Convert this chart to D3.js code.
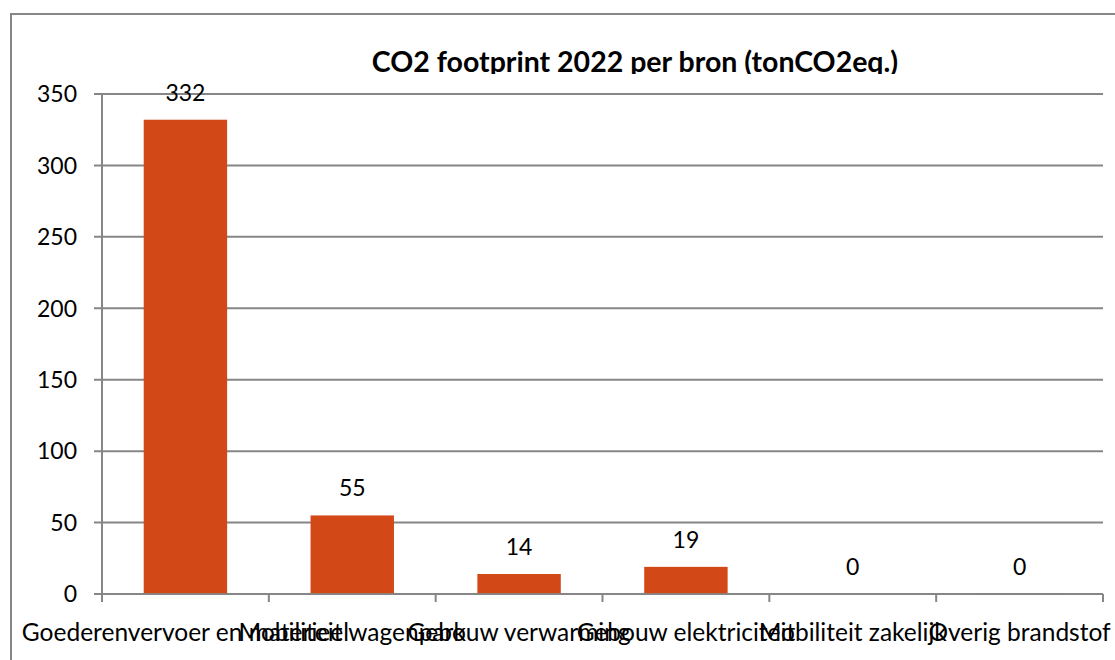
<!DOCTYPE html>
<html>
<head>
<meta charset="utf-8">
<script src="https://cdn.jsdelivr.net/npm/d3@7"></script>
<style>
  body { margin: 0; background: #fff; }
  svg { display: block; font-family: Lato, "Open Sans", sans-serif; }
</style>
</head>
<body>
<div id="chart"></div>
<script>
// chart data
const categories = ["Goederenvervoer en materieel", "Mobiliteit wagenpark", "Gebouw verwarming",
  "Gebouw elektriciteit", "Mobiliteit zakelijk", "Overig brandstof"];
const values = [332, 55, 14, 19, 0, 0.2];
const valueLabels = ["332", "55", "14", "19", "0", "0"];
const yTicks = [0, 50, 100, 150, 200, 250, 300, 350];
const title = "CO2 footprint 2022 per bron (tonCO2eq.)";

const W = 1115, H = 660;
const plot = { left: 102, right: 1103, top: 94, bottom: 594 };
const grey = "#868686";
const barColor = "#D34817";

const svg = d3.select("#chart").append("svg")
  .attr("width", W)
  .attr("height", H);

// outer frame, runs off the right and bottom edges
svg.append("rect")
  .attr("x", 11).attr("y", 14)
  .attr("width", W + 200).attr("height", H + 100)
  .attr("fill", "none")
  .attr("stroke", grey)
  .attr("stroke-width", 2);

// title, bottom clipped like the source
svg.append("clipPath").attr("id", "titleClip")
  .append("rect").attr("x", 0).attr("y", 0).attr("width", W).attr("height", 74);

svg.append("text")
  .attr("clip-path", "url(#titleClip)")
  .attr("x", 635).attr("y", 72)
  .attr("text-anchor", "middle")
  .attr("font-weight", "bold")
  .attr("font-size", 28.5)
  .attr("fill", "#000")
  .text(title);

const x = d3.scaleBand()
  .domain(categories)
  .range([plot.left, plot.right])
  .paddingInner(0.5)
  .paddingOuter(0.25);

const y = d3.scaleLinear()
  .domain([0, 350])
  .range([plot.bottom, plot.top]);

// gridlines + y ticks
svg.append("g")
  .selectAll("line")
  .data(yTicks)
  .join("line")
  .attr("x1", plot.left - 8).attr("x2", plot.right)
  .attr("y1", d => y(d)).attr("y2", d => y(d))
  .attr("stroke", grey)
  .attr("stroke-width", 2);

svg.append("g")
  .selectAll("text")
  .data(yTicks)
  .join("text")
  .attr("x", 77)
  .attr("y", d => y(d))
  .attr("dy", "0.36em")
  .attr("text-anchor", "end")
  .attr("font-size", 23)
  .attr("fill", "#000")
  .text(d => d);

// y axis line
svg.append("line")
  .attr("x1", plot.left).attr("x2", plot.left)
  .attr("y1", plot.top).attr("y2", plot.bottom + 8)
  .attr("stroke", grey)
  .attr("stroke-width", 2);

// category boundary ticks
const step = x.step();
const bounds = categories.map(c => x(c) - step * 0.25).concat([plot.right]);
svg.append("g")
  .selectAll("line")
  .data(bounds)
  .join("line")
  .attr("x1", d => d).attr("x2", d => d)
  .attr("y1", plot.bottom).attr("y2", plot.bottom + 8)
  .attr("stroke", grey)
  .attr("stroke-width", 2);

// bars
svg.append("g")
  .selectAll("rect")
  .data(values)
  .join("rect")
  .attr("x", (d, i) => x(categories[i]))
  .attr("y", d => y(d))
  .attr("width", x.bandwidth())
  .attr("height", d => y(0) - y(d))
  .attr("fill", barColor);

// redraw zero line on top of bars
svg.append("line")
  .attr("x1", plot.left - 8).attr("x2", plot.right)
  .attr("y1", y(0)).attr("y2", y(0))
  .attr("stroke", grey)
  .attr("stroke-width", 2)
  .attr("stroke-opacity", 0.85);

// value labels
svg.append("g")
  .selectAll("text")
  .data(values)
  .join("text")
  .attr("x", (d, i) => x(categories[i]) + x.bandwidth() / 2)
  .attr("y", d => y(d) - 19)
  .attr("text-anchor", "middle")
  .attr("font-size", 23)
  .attr("fill", "#000")
  .text((d, i) => valueLabels[i]);

// category labels (overlapping, as in the source)
svg.append("g")
  .selectAll("text")
  .data(categories)
  .join("text")
  .attr("x", d => x(d) + x.bandwidth() / 2)
  .attr("y", 641)
  .attr("text-anchor", "middle")
  .attr("font-size", 24.5)
  .attr("fill", "#000")
  .text(d => d);
</script>
</body>
</html>
